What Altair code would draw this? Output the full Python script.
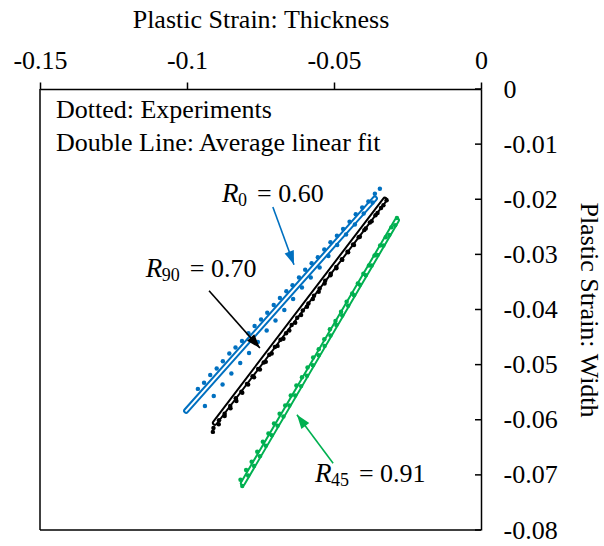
import math

import altair as alt
import pandas as pd

# ---------------------------------------------------------------- axes
x_ticks = [-0.15, -0.1, -0.05, 0.0]
y_ticks = [0.0, -0.01, -0.02, -0.03, -0.04, -0.05, -0.06, -0.07, -0.08]

# ---------------------------------------------------------------- measured strain paths
# R0 direction, specimen A
r0_a_x = [-0.0963, -0.0942, -0.0921, -0.0899, -0.0878, -0.0856, -0.0835, -0.0813,
          -0.0791, -0.0770, -0.0748, -0.0727, -0.0705, -0.0684, -0.0662, -0.0641,
          -0.0619, -0.0598, -0.0576, -0.0555, -0.0533, -0.0512, -0.0490, -0.0469,
          -0.0447, -0.0426, -0.0404, -0.0383, -0.0361, -0.0344]
r0_a_y = [-0.0544, -0.0533, -0.0519, -0.0507, -0.0494, -0.0480, -0.0469, -0.0457,
          -0.0443, -0.0430, -0.0418, -0.0406, -0.0392, -0.0379, -0.0367, -0.0356,
          -0.0342, -0.0328, -0.0316, -0.0305, -0.0291, -0.0278, -0.0266, -0.0254,
          -0.0241, -0.0227, -0.0215, -0.0204, -0.0190, -0.0181]
# R0 direction, specimen B
r0_b_x = [-0.0939, -0.0909, -0.0879, -0.0849, -0.0819, -0.0789, -0.0759, -0.0729,
          -0.0699, -0.0669, -0.0639, -0.0609, -0.0579, -0.0549, -0.0519, -0.0489,
          -0.0459, -0.0429, -0.0399, -0.0369]
r0_b_y = [-0.0575, -0.0557, -0.0536, -0.0516, -0.0497, -0.0479, -0.0459, -0.0438,
          -0.0420, -0.0401, -0.0381, -0.0360, -0.0342, -0.0324, -0.0303, -0.0283,
          -0.0264, -0.0246, -0.0226, -0.0206]
# R90 direction, specimen A
r90_a_x = [-0.0910, -0.0891, -0.0872, -0.0853, -0.0834, -0.0815, -0.0796, -0.0777,
           -0.0758, -0.0739, -0.0720, -0.0701, -0.0682, -0.0663, -0.0644, -0.0625,
           -0.0606, -0.0587, -0.0568, -0.0549, -0.0530, -0.0511, -0.0492, -0.0473,
           -0.0454, -0.0435, -0.0416, -0.0397, -0.0378, -0.0359, -0.0340, -0.0321]
r90_a_y = [-0.0615, -0.0601, -0.0589, -0.0575, -0.0561, -0.0549, -0.0535, -0.0521,
           -0.0508, -0.0496, -0.0482, -0.0468, -0.0455, -0.0443, -0.0428, -0.0415,
           -0.0402, -0.0389, -0.0375, -0.0362, -0.0348, -0.0335, -0.0323, -0.0309,
           -0.0295, -0.0282, -0.0269, -0.0256, -0.0242, -0.0229, -0.0216, -0.0202]
# R90 direction, specimen B
r90_b_x = [-0.0912, -0.0892, -0.0872, -0.0852, -0.0832, -0.0812, -0.0792, -0.0772,
           -0.0752, -0.0732, -0.0712, -0.0692, -0.0672, -0.0652, -0.0632, -0.0612,
           -0.0592, -0.0572, -0.0552, -0.0532, -0.0512, -0.0492, -0.0472, -0.0452,
           -0.0432, -0.0412, -0.0392, -0.0372, -0.0352, -0.0332]
r90_b_y = [-0.0622, -0.0608, -0.0593, -0.0579, -0.0566, -0.0551, -0.0536, -0.0523,
           -0.0509, -0.0495, -0.0480, -0.0466, -0.0453, -0.0438, -0.0424, -0.0410,
           -0.0395, -0.0381, -0.0368, -0.0353, -0.0338, -0.0325, -0.0310, -0.0296,
           -0.0283, -0.0268, -0.0253, -0.0240, -0.0225, -0.0211]
# R45 direction, specimen A
r45_a_x = [-0.0818, -0.0799, -0.0780, -0.0761, -0.0742, -0.0723, -0.0704, -0.0685,
           -0.0666, -0.0647, -0.0628, -0.0609, -0.0590, -0.0571, -0.0552, -0.0533,
           -0.0514, -0.0495, -0.0476, -0.0457, -0.0438, -0.0419, -0.0400, -0.0381,
           -0.0362, -0.0343, -0.0324, -0.0305, -0.0286]
r45_a_y = [-0.0709, -0.0691, -0.0676, -0.0658, -0.0640, -0.0625, -0.0607, -0.0589,
           -0.0574, -0.0556, -0.0538, -0.0523, -0.0505, -0.0487, -0.0472, -0.0454,
           -0.0436, -0.0421, -0.0404, -0.0386, -0.0371, -0.0353, -0.0335, -0.0320,
           -0.0302, -0.0284, -0.0269, -0.0251, -0.0234]
# R45 direction, specimen B
r45_b_x = [-0.0812, -0.0792, -0.0772, -0.0752, -0.0732, -0.0712, -0.0692, -0.0672,
           -0.0652, -0.0632, -0.0612, -0.0592, -0.0572, -0.0552, -0.0532, -0.0512,
           -0.0492, -0.0472, -0.0452, -0.0432, -0.0412, -0.0392, -0.0372, -0.0352,
           -0.0332, -0.0312, -0.0292]
r45_b_y = [-0.0720, -0.0701, -0.0684, -0.0666, -0.0647, -0.0628, -0.0611, -0.0594,
           -0.0574, -0.0556, -0.0539, -0.0520, -0.0501, -0.0483, -0.0466, -0.0447,
           -0.0428, -0.0411, -0.0393, -0.0374, -0.0355, -0.0338, -0.0320, -0.0301,
           -0.0284, -0.0265, -0.0247]

# ---------------------------------------------------------------- average linear fits
fit_names = ["R0", "R90", "R45"]
fit_subs = ["0", "90", "45"]
fit_r = [0.60, 0.70, 0.91]            # slope = Lankford coefficient
fit_b = [0.0018, 0.0028, 0.0022]      # intercept
fit_x0 = [-0.1003, -0.0905, -0.0810]  # thickness-strain range of each fit
fit_x1 = [-0.0361, -0.0327, -0.0286]
series_color = {"R0": "#0070C0", "R90": "#000000", "R45": "#00B050"}

# label anchors (left edge of "R", baseline) and arrows (tail -> tip), in strain units
label_x = [-0.0881, -0.1140, -0.0565]
label_y = [-0.0205, -0.0341, -0.0713]
arrow_tail_x = [-0.0708, -0.0925, -0.0503]
arrow_tail_y = [-0.0214, -0.0366, -0.0679]
arrow_tip_x = [-0.0636, -0.0752, -0.0626]
arrow_tip_y = [-0.0319, -0.0470, -0.0591]

legend_lines = ["Dotted: Experiments", "Double Line: Average linear fit"]

# ---------------------------------------------------------------- layout
W, H = 441, 441
X_SPAN, Y_SPAN = 0.15, 0.08
FONT = "Liberation Serif"

# ---------------------------------------------------------------- tables
dots = []
for name, xs, ys in [("R0", r0_a_x, r0_a_y), ("R0", r0_b_x, r0_b_y),
                     ("R90", r90_a_x, r90_a_y), ("R90", r90_b_x, r90_b_y),
                     ("R45", r45_a_x, r45_a_y), ("R45", r45_b_x, r45_b_y)]:
    for xv, yv in zip(xs, ys):
        dots.append({"x": xv, "y": yv, "series": name, "c": series_color[name]})
dots = pd.DataFrame(dots)

fits = []
for name, r, b, x0, x1 in zip(fit_names, fit_r, fit_b, fit_x0, fit_x1):
    for xv in (x0, x1):
        fits.append({"x": xv, "y": r * xv + b, "series": name, "c": series_color[name]})
fits = pd.DataFrame(fits)

arrows = []
for i, name in enumerate(fit_names):
    dxp = (arrow_tip_x[i] - arrow_tail_x[i]) * W / X_SPAN
    dyp = -(arrow_tip_y[i] - arrow_tail_y[i]) * H / Y_SPAN
    ang = math.degrees(math.atan2(dxp, -dyp)) % 360
    arrows.append({"x": arrow_tail_x[i], "y": arrow_tail_y[i],
                   "x2": arrow_tip_x[i], "y2": arrow_tip_y[i],
                   "angle": ang, "c": series_color[name]})
arrows = pd.DataFrame(arrows)

legend_df = pd.DataFrame({"t": legend_lines, "py": [29, 62]})
ytick_df = pd.DataFrame({"y": y_ticks})

# ---------------------------------------------------------------- encodings
x_scale = alt.Scale(domain=[-0.15, 0], nice=False, zero=False)
y_scale = alt.Scale(domain=[-0.08, 0], nice=False, zero=False)

x_axis = alt.Axis(
    orient="top", values=x_ticks, grid=False, title="Plastic Strain: Thickness",
    labelExpr="datum.value == 0 ? '0' : '-' + format(abs(datum.value), '.2~f')",
    labelFont=FONT, labelFontSize=26, labelColor="black", labelBaseline="alphabetic",
    labelPadding=14, labelFlush=False, labelOverlap=False,
    tickSize=7, tickWidth=1.5, tickColor="black",
    domainColor="black", domainWidth=1.5,
    titleFont=FONT, titleFontSize=26, titleFontWeight="normal", titleColor="black",
    titleX=W / 2, titleY=-62, titleAlign="center", titleBaseline="alphabetic",
)
y_axis = alt.Axis(
    orient="right", values=y_ticks, grid=False, title="Plastic Strain: Width",
    labelExpr="datum.value == 0 ? '0' : '-' + format(abs(datum.value), '.2f')",
    labelFont=FONT, labelFontSize=26, labelColor="black", labelAlign="left",
    labelBaseline="middle", labelPadding=22, labelFlush=False, labelOverlap=False,
    tickSize=0, domainColor="black", domainWidth=1.5,
    titleFont=FONT, titleFontSize=26, titleFontWeight="normal", titleColor="black",
    titleAngle=90, titleX=99, titleY=H / 2, titleAlign="center",
    titleBaseline="alphabetic",
)


def X(field="x"):
    return alt.X(f"{field}:Q", scale=x_scale, axis=x_axis)


def Y(field="y"):
    return alt.Y(f"{field}:Q", scale=y_scale, axis=y_axis)


C = alt.Color("c:N", scale=None)

# ---------------------------------------------------------------- layers
# plot frame (left and bottom edges; the axes draw top and right)
frame = alt.Chart(pd.DataFrame({"y": [-0.08]})).mark_rule(color="black", strokeWidth=1.5)
frame_bottom = frame.encode(y=Y(), x=alt.value(0), x2=alt.value(W))
frame_left = frame.encode(y=alt.value(0), y2=alt.value(H), x=alt.value(0))

# inward tick marks on the right-hand axis
yticks = alt.Chart(ytick_df).mark_rule(color="black", strokeWidth=1.5).encode(
    y=Y(), x=alt.value(W - 6), x2=alt.value(W)
)

# "double line" fits: coloured stroke with a white core
fit_outer = alt.Chart(fits).mark_line(strokeWidth=6, strokeCap="round").encode(
    x=X(), y=Y(), color=C, detail="series:N"
)
fit_inner = alt.Chart(fits).mark_line(strokeWidth=2.0, strokeCap="round", color="white").encode(
    x=X(), y=Y(), detail="series:N"
)

points = alt.Chart(dots).mark_circle(size=20, opacity=1).encode(x=X(), y=Y(), color=C)

arrow_shaft = alt.Chart(arrows).mark_rule(strokeWidth=1.6).encode(
    x=X(), y=Y(), x2="x2:Q", y2="y2:Q", color=C
)
arrow_head = alt.Chart(arrows).mark_point(
    shape="M0,0L-0.7,2L0.7,2Z", filled=True, size=196, opacity=1, strokeWidth=0
).encode(
    x=X("x2"), y=Y("y2"), color=C, angle=alt.Angle("angle:Q", scale=None)
)

legend_text = alt.Chart(legend_df).mark_text(
    font=FONT, fontSize=26, align="left", baseline="alphabetic", color="black"
).encode(x=alt.value(16), y=alt.Y("py:Q", scale=None), text="t:N")

label_layers = []
for i, name in enumerate(fit_names):
    row = pd.DataFrame({"x": [label_x[i]], "y": [label_y[i]],
                        "sub": [fit_subs[i]], "val": [f"= {fit_r[i]:.2f}"]})
    base = alt.Chart(row).encode(x=X(), y=Y())
    val_dx = 16 + 9 * len(fit_subs[i]) + 10
    label_layers += [
        base.mark_text(font=FONT, fontSize=27, fontStyle="italic", align="left",
                       baseline="alphabetic", color="black").encode(text=alt.value("R")),
        base.mark_text(font=FONT, fontSize=18, align="left", baseline="alphabetic",
                       dx=16, dy=4, color="black").encode(text="sub:N"),
        base.mark_text(font=FONT, fontSize=26, align="left", baseline="alphabetic",
                       dx=val_dx, color="black").encode(text="val:N"),
    ]

chart = alt.layer(
    frame_bottom, frame_left, yticks, fit_outer, fit_inner, points,
    arrow_shaft, arrow_head, legend_text, *label_layers
).properties(
    width=W, height=H,
    autosize=alt.AutoSizeParams(type="none"),
    padding={"left": 40, "top": 89, "right": 123, "bottom": 16},
    background="white",
).configure(
    font=FONT
).configure_view(
    stroke=None
)

chart.save("out.html", embed_options={"renderer": "svg", "actions": False})
